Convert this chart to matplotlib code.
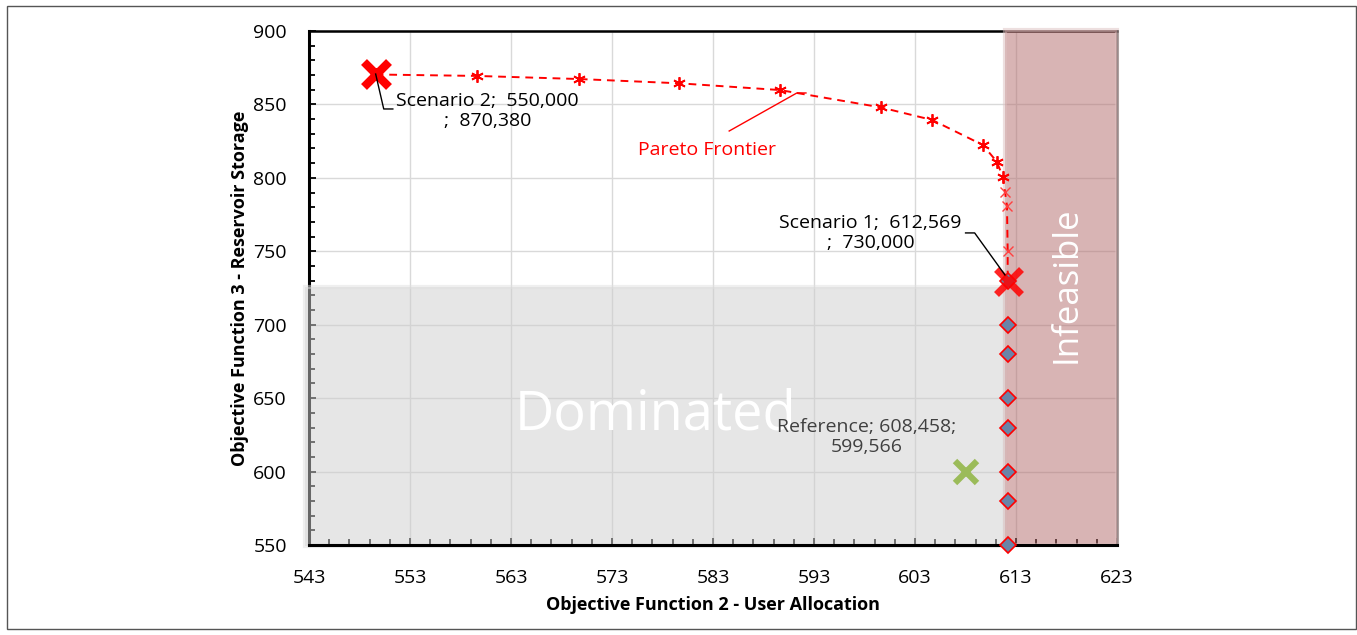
import numpy as np
import matplotlib.pyplot as plt
from matplotlib.patches import Rectangle
from matplotlib.ticker import FixedLocator, MultipleLocator

plt.rcParams['font.family'] = ['Open Sans', 'DejaVu Sans']

# Pareto frontier (user allocation, reservoir storage)
pareto_x = [550.0, 560.0, 570.1, 580.0, 590.0, 600.0, 605.1, 610.1, 611.5, 612.1]
pareto_y = [870.38, 869.4, 867.3, 864.4, 859.8, 848.0, 839.4, 822.4, 811.0, 800.4]
tail_x = [612.3, 612.5, 612.569, 612.569]
tail_y = [790.6, 781.0, 750.0, 730.0]

# dominated solutions on the boundary
dom_x = [612.569] * 8
dom_y = [730, 700, 680, 650, 630, 600, 580, 550]

scen1 = (612.569, 730.0)
scen2 = (550.0, 870.38)
ref = (608.458, 599.566)

xmin, xmax = 543.4, 623.4
xticks = np.arange(xmin, xmax + 0.1, 10)
xlabels = [str(int(round(v))) for v in xticks]

fig = plt.figure(figsize=(13.57, 6.35), dpi=100)
ax = fig.add_axes([0.2277, 0.1417, 0.5955, 0.8095])

ax.set_xlim(xmin, xmax)
ax.set_ylim(550, 900)
ax.xaxis.set_major_locator(FixedLocator(xticks))
ax.set_xticklabels(xlabels)
ax.xaxis.set_minor_locator(FixedLocator(np.arange(xmin, xmax + 0.1, 2)))
ax.yaxis.set_major_locator(MultipleLocator(50))
ax.yaxis.set_minor_locator(MultipleLocator(10))
ax.tick_params(which='both', direction='in', labelsize=14, width=1.3)
ax.tick_params(which='major', length=5)
ax.tick_params(which='minor', length=4)
ax.tick_params(axis='x', pad=17)
ax.tick_params(axis='y', pad=16)
ax.grid(True, which='major', color='#d9d9d9', lw=1)
ax.set_axisbelow(True)

for s in ['left', 'bottom']:
    ax.spines[s].set_linewidth(2.2)
ax.spines['top'].set_linewidth(1.8)
ax.spines['right'].set_linewidth(1.8)
ax.spines['right'].set_color('#555555')
ax.spines['bottom'].set_zorder(3.5)

ax.set_xlabel('Objective Function 2 - User Allocation', fontsize=13, fontweight='bold', labelpad=7)
ax.set_ylabel('Objective Function 3 - Reservoir Storage', fontsize=13, fontweight='bold', labelpad=3)

# shaded regions
ax.add_patch(Rectangle((543.0, 549.5), 612.3 - 543.0, 726 - 549.5, facecolor='#cfcfcf', alpha=0.5,
                       edgecolor='#e0e0e0', lw=3, zorder=3, clip_on=False))
ax.add_patch(Rectangle((612.3, 550), xmax - 612.3, 351, facecolor='#b36a6a', alpha=0.5,
                       edgecolor='#dcc0c0', lw=3, zorder=3, clip_on=False))

ax.text(577.7, 638.5, 'Dominated', color='white', fontsize=39, ha='center', va='center', zorder=4)
ax.text(618.4, 727, 'Infeasible', color='white', fontsize=25, rotation=90, ha='center', va='center', zorder=4)

# pareto frontier
ax.plot(pareto_x + tail_x, pareto_y + tail_y, color='red', ls=(0, (4, 3)), lw=1.4, zorder=5)
ax.plot(pareto_x, pareto_y, ls='none', marker=(6, 2, 0), ms=9, mec='red', mew=1.3, zorder=6)
ax.plot(tail_x[:3], tail_y[:3], ls='none', marker='x', ms=7, mec='#ff4040', mew=1, zorder=6)

ax.plot(dom_x, dom_y, ls='none', marker='D', ms=8.5, mfc='#6a84a8', mec='red', mew=1.2, zorder=7, clip_on=False)

ax.plot(*scen2, marker='x', ms=18, mec='red', mew=6, zorder=8)
ax.plot(*scen1, marker='x', ms=18, mec='red', mew=5, alpha=0.85, zorder=8)
ax.plot(*ref, marker='x', ms=16, mec='#9bbb59', mew=4.5, zorder=8)

# labels and leader lines
ax.plot([550.0, 550.8, 551.7], [870.7, 846.9, 846.9], color='black', lw=1, zorder=9)
ax.text(561.1, 845.5, 'Scenario 2;  550,000\n;  870,380', fontsize=14, ha='center', va='center',
        linespacing=1.1, zorder=9)
ax.plot([608.4, 609.3, 612.3], [762.5, 762.5, 733.9], color='black', lw=1, zorder=9)
ax.text(599.0, 762.5, 'Scenario 1;  612,569\n;  730,000', fontsize=14, ha='center', va='center',
        linespacing=1.1, zorder=9)
ax.text(598.6, 623.6, 'Reference; 608,458;\n599,566', fontsize=14, color='#404040', ha='center',
        va='center', linespacing=1.1, zorder=9)
ax.plot([585.0, 591.7, 592.6], [831.9, 857.8, 857.8], color='red', lw=1, zorder=9)
ax.text(582.8, 819, 'Pareto Frontier', fontsize=14, color='red', ha='center', va='center', zorder=9)

# outer frame
fig.add_artist(Rectangle((0.005, 0.01), 0.994, 0.98, transform=fig.transFigure, fill=False,
                         edgecolor='#555555', lw=1))

fig.savefig('out.png', dpi=100)
